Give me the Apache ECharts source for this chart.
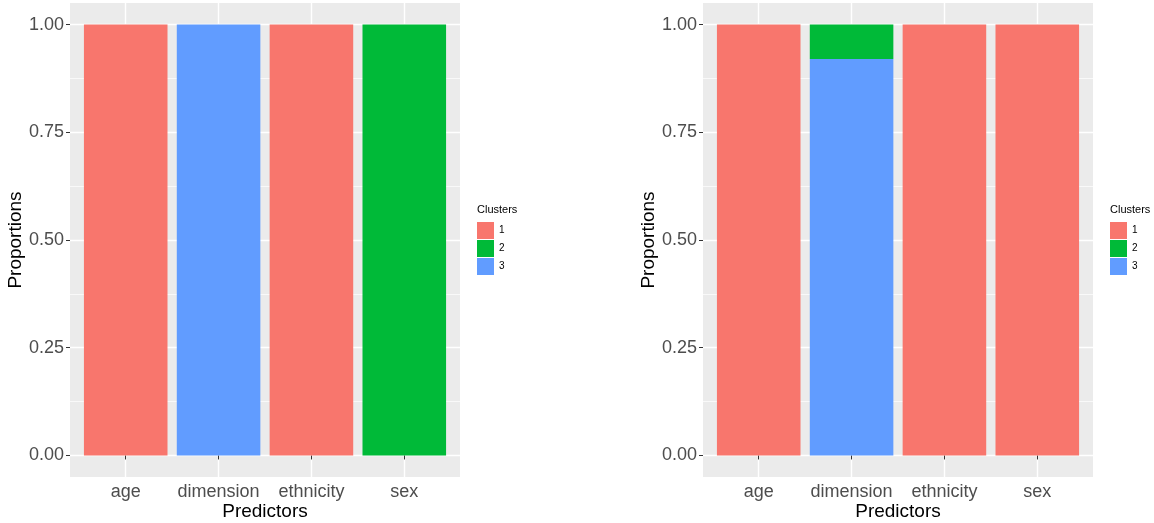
<!DOCTYPE html>
<html><head><meta charset="utf-8">
<script src="https://cdn.jsdelivr.net/npm/echarts@6/dist/echarts.min.js"></script>
<style>html,body{margin:0;padding:0;background:#fff}#c{width:1154px;height:523px}</style>
</head><body><div id="c"></div>
<script>
const categories = ['age', 'dimension', 'ethnicity', 'sex'];
const clusterNames = ['1', '2', '3'];
const clusterColors = ['#F8766D', '#00BA38', '#619CFF'];
const yTicks = [0, 0.25, 0.5, 0.75, 1];
const yMinor = [0.125, 0.375, 0.625, 0.875];
// left panel proportions per cluster
const leftC1 = [1, 0, 1, 0];
const leftC2 = [0, 0, 0, 1];
const leftC3 = [0, 1, 0, 0];
// right panel proportions per cluster
const rightC1 = [1, 0, 1, 1];
const rightC2 = [0, 0.08, 0, 0];
const rightC3 = [0, 0.92, 0, 0];

const FONT = 'Liberation Sans, Arial, sans-serif';
const panels = [
  {left: 70, data: [leftC1, leftC2, leftC3]},
  {left: 703, data: [rightC1, rightC2, rightC3]}
];
const gridW = 390, gridH = 474, gridTop = 3;
const xMin = 0.4, xMax = categories.length + 0.6;
const unit = gridW / (xMax - xMin);
const xPos = categories.map((c, i) => i + 1);
const yMin = -0.05, yMax = 1.05;

const grids = [], xAxes = [], yAxes = [], series = [], legends = [], graphics = [];
panels.forEach((p, pi) => {
  const gA = grids.length;
  // background panel grid (gridlines, ticks, labels, titles)
  grids.push({left: p.left, top: gridTop, width: gridW, height: gridH, show: true,
    backgroundColor: '#EBEBEB', borderWidth: 0, outerBoundsMode: 'none', containLabel: false});
  // bar grid: spans category bands 0.5..4.5
  grids.push({left: p.left + (0.5 - xMin) * unit, top: gridTop, width: categories.length * unit,
    height: gridH, show: false, outerBoundsMode: 'none', containLabel: false});
  const xA = xAxes.length;
  xAxes.push({type: 'value', gridIndex: gA, min: xMin, max: xMax,
    name: 'Predictors', nameLocation: 'middle', nameGap: 25, nameMoveOverlap: false,
    nameTextStyle: {color: '#000', fontSize: 19, fontFamily: FONT},
    axisLine: {show: false},
    axisTick: {show: true, length: 4, customValues: xPos, lineStyle: {color: '#333', width: 1}},
    axisLabel: {customValues: xPos, color: '#4D4D4D', fontSize: 18, fontFamily: FONT, margin: 6,
      formatter: v => categories[Math.round(v) - 1] || ''},
    splitLine: {show: true, lineStyle: {color: '#fff', width: 1.4}}
  });
  xAxes.push({type: 'category', gridIndex: gA + 1, data: categories, show: false,
    boundaryGap: true});
  const yA = yAxes.length;
  yAxes.push({type: 'value', gridIndex: gA, min: yMin, max: yMax,
    name: 'Proportions', nameLocation: 'middle', nameGap: 44, nameRotate: 90,
    nameTextStyle: {color: '#000', fontSize: 19, fontFamily: FONT},
    axisLine: {show: false},
    axisTick: {show: true, length: 4, customValues: yTicks, lineStyle: {color: '#333', width: 1}},
    axisLabel: {customValues: yTicks, color: '#4D4D4D', fontSize: 18, fontFamily: FONT, margin: 6,
      formatter: v => v.toFixed(2)},
    splitLine: {show: true, lineStyle: {color: '#fff', width: 1.4}}
  });
  yAxes.push({type: 'value', gridIndex: gA, min: yMin, max: yMax,
    axisLine: {show: false},
    axisTick: {show: false, customValues: yMinor},
    axisLabel: {show: false, customValues: yMinor},
    splitLine: {show: true, lineStyle: {color: '#fff', width: 0.7}}
  });
  yAxes.push({type: 'value', gridIndex: gA + 1, min: yMin, max: yMax, show: false,
    splitLine: {show: false}});
  // stack order bottom to top: 3, 2, 1
  [2, 1, 0].forEach(ci => {
    series.push({type: 'bar', name: clusterNames[ci], xAxisIndex: xA + 1, yAxisIndex: yA + 2,
      stack: 'p' + pi, barWidth: '90%', z: 3,
      itemStyle: {color: clusterColors[ci]},
      data: p.data[ci]
    });
  });
  const lx = p.left + gridW + 17;
  legends.push({orient: 'vertical', left: lx, top: 222, itemWidth: 17, itemHeight: 17, itemGap: 1,
    icon: 'rect', selectedMode: false, data: clusterNames,
    textStyle: {color: '#000', fontSize: 10, fontFamily: FONT, padding: [0, 0, 0, 0]},
    padding: 0});
  graphics.push({type: 'text', left: lx, top: 204,
    style: {text: 'Clusters', fontSize: 11, fill: '#000', fontFamily: FONT}});
});

const chart = echarts.init(document.getElementById('c'), null, {renderer: 'canvas'});
chart.setOption({
  animation: false,
  backgroundColor: '#fff',
  color: clusterColors,
  grid: grids, xAxis: xAxes, yAxis: yAxes, series: series, legend: legends,
  graphic: graphics
});
</script></body></html>
